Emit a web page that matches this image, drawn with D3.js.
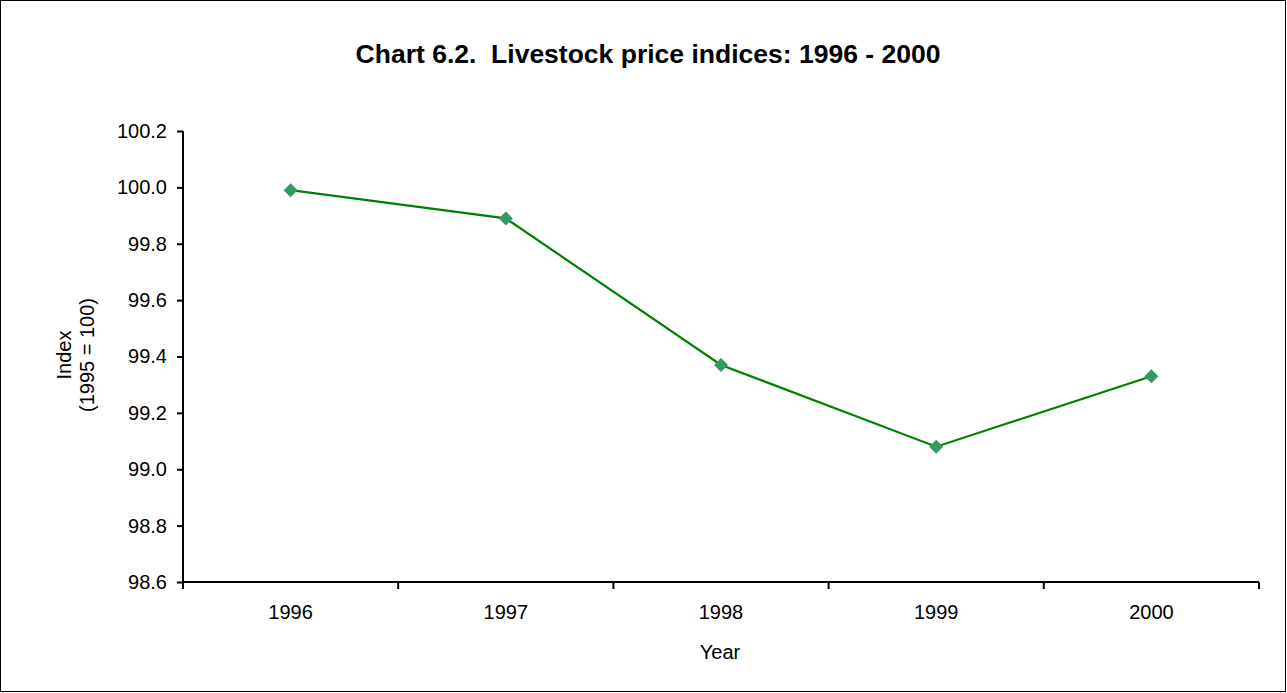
<!DOCTYPE html>
<html>
<head>
<meta charset="utf-8">
<script src="https://cdn.jsdelivr.net/npm/d3@7"></script>
<style>
  body { margin: 0; background: #fff; }
  svg text { font-family: "Liberation Sans", Arial, sans-serif; fill: #000; }
</style>
</head>
<body>
<div id="chart"></div>
<script>
var years = ["1996", "1997", "1998", "1999", "2000"];
var indexValues = [99.99, 99.89, 99.37, 99.08, 99.33];
var yTicks = [98.6, 98.8, 99.0, 99.2, 99.4, 99.6, 99.8, 100.0, 100.2];

var W = 1287, H = 693;
var margin = {top: 131, right: 28, bottom: 111, left: 183};
var width = 1259 - margin.left, height = 582 - margin.top;

var svg = d3.select("#chart").append("svg")
  .attr("width", W).attr("height", H);

// outer frame
svg.append("rect")
  .attr("x", 0.5).attr("y", 0.5)
  .attr("width", W - 2).attr("height", H - 2)
  .style("fill", "white").style("stroke", "black");

svg.append("text")
  .attr("x", 648).attr("y", 63)
  .attr("text-anchor", "middle")
  .style("font-size", "26.5px").style("font-weight", "bold")
  .style("white-space", "pre")
  .text("Chart 6.2.  Livestock price indices: 1996 - 2000");

var main = svg.append("g")
  .attr("transform", "translate(" + margin.left + "," + margin.top + ")");

var x = d3.scaleBand().domain(years).range([0, width]);
var y = d3.scaleLinear().domain([98.6, 100.2]).range([height, 0]);

// y axis
var yAxis = main.append("g")
  .call(d3.axisLeft(y).tickValues(yTicks).tickSize(6).tickPadding(10)
    .tickFormat(d3.format(".1f")));
yAxis.select(".domain").attr("d", "M0,0V" + height).style("stroke-width", 2);
yAxis.selectAll(".tick line").style("stroke-width", 2);
yAxis.selectAll("text").style("font-size", "20px");

// x axis (ticks on category boundaries)
var xAxis = main.append("g")
  .attr("transform", "translate(0," + height + ")");
xAxis.append("line")
  .attr("x1", 0).attr("x2", width)
  .style("stroke", "black").style("stroke-width", 2);
var bounds = years.map(function(d) { return x(d); }).concat([width]);
xAxis.selectAll(".xt").data(bounds).enter().append("line")
  .attr("x1", function(d) { return d; }).attr("x2", function(d) { return d; })
  .attr("y1", 0).attr("y2", 7)
  .style("stroke", "black").style("stroke-width", 2);
xAxis.selectAll(".xl").data(years).enter().append("text")
  .attr("x", function(d) { return x(d) + x.bandwidth() / 2; })
  .attr("y", 37)
  .attr("text-anchor", "middle")
  .style("font-size", "20px")
  .text(function(d) { return d; });

main.append("text")
  .attr("x", 720 - margin.left).attr("y", height + 77)
  .attr("text-anchor", "middle")
  .style("font-size", "20px")
  .text("Year");

// y axis label
var yl = svg.append("text")
  .attr("transform", "translate(71,355) rotate(-90)")
  .attr("text-anchor", "middle")
  .style("font-size", "20px");
yl.append("tspan").attr("x", 0).attr("dy", 0).text("Index");
yl.append("tspan").attr("x", 0).attr("dy", 23).text("(1995 = 100)");

// series
var pts = years.map(function(d, i) { return {year: d, value: indexValues[i]}; });
var line = d3.line()
  .x(function(d) { return x(d.year) + x.bandwidth() / 2; })
  .y(function(d) { return y(d.value); });

main.append("path")
  .datum(pts)
  .attr("d", line)
  .style("fill", "none").style("stroke", "#008000").style("stroke-width", 2.2);

main.selectAll(".marker").data(pts).enter().append("path")
  .attr("class", "marker")
  .attr("transform", function(d) {
    return "translate(" + (x(d.year) + x.bandwidth() / 2) + "," + y(d.value) + ")";
  })
  .attr("d", d3.symbol().type(d3.symbolDiamond2).size(125))
  .style("fill", "#339966");
</script>
</body>
</html>
